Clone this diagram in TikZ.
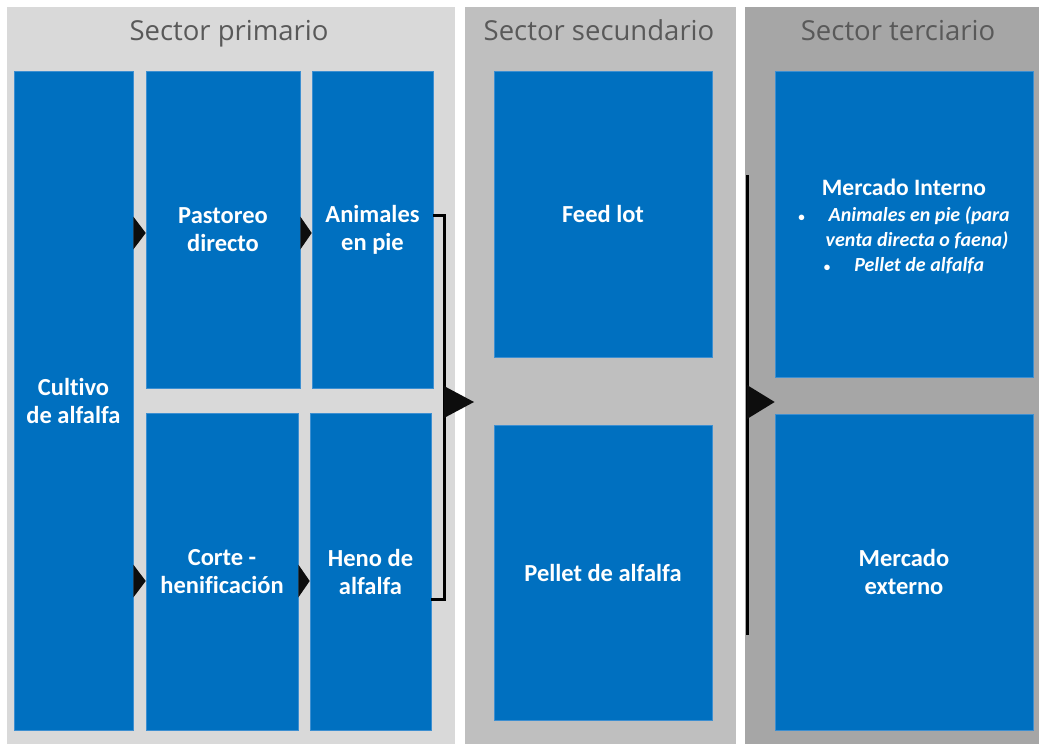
\documentclass[tikz,border=0pt]{standalone}
\usepackage{fontspec}
\setmainfont{Carlito}[Ligatures=NoCommon]
\newfontfamily\titlefont{Open Sans}
\usetikzlibrary{calc}
\definecolor{pA}{HTML}{D9D9D9}
\definecolor{pB}{HTML}{BFBFBF}
\definecolor{pC}{HTML}{A6A6A6}
\definecolor{bx}{HTML}{0070C0}
\definecolor{bxline}{HTML}{3D8FD1}
\definecolor{ttl}{HTML}{595959}
\newcommand{\smbul}{{\fontsize{13}{13}\selectfont\upshape\textbullet}}
\tikzset{
  panel/.style={fill=#1, draw=none},
  bbox/.style={fill=bx, draw=bxline, line width=0.6pt, text=white, align=center,
     font=\fontsize{24.5}{28}\selectfont\bfseries, inner sep=0pt},
  ttitle/.style={text=ttl, font=\titlefont\fontsize{27.5}{30}\selectfont, inner sep=0pt, anchor=base},
  tip/.style={fill=black!95},
  brk/.style={draw=black, line width=3pt}
}
\begin{document}
\begin{tikzpicture}[x=1pt,y=-1pt]
\useasboundingbox (0,0) rectangle (1039,744);
\fill[white] (0,0) rectangle (1039,744);
% panels
\fill[panel=pA] (7,7) rectangle (455,744);
\fill[panel=pB] (465,7) rectangle (736,744);
\fill[panel=pC] (745,7) rectangle (1039,744);
% titles
\node[ttitle] (t1) at (229,40) {Sector primario};
\node[ttitle] (t2) at (599,40) {Sector secundario};
\node[ttitle] (t3) at (898,40) {Sector terciario};
% boxes
\node[bbox, minimum width=119pt, minimum height=659pt] (cult) at (73.5,400.5) {Cultivo\\de alfalfa};
\node[bbox, minimum width=154pt, minimum height=317pt] (past) at (223,229.5) {Pastoreo\\directo};
\node[bbox, minimum width=121pt, minimum height=317pt] (anim) at (372.5,229.5) {Animales\\en pie};
\node[bbox, minimum width=152pt, minimum height=317pt] (cort) at (222,571.5) {Corte -\\henificación};
\node[bbox, minimum width=121pt, minimum height=317pt] (heno) at (370.5,571.5) {Heno de\\alfalfa};
\node[bbox, minimum width=218pt, minimum height=286pt] (feed) at (603,214) {Feed lot};
\node[bbox, minimum width=218pt, minimum height=295pt] (pell) at (603,572.5) {Pellet de alfalfa};
\node[bbox, minimum width=258pt, minimum height=306pt] (mint) at (904,224) {};
\node[text=white, align=center, inner sep=0pt, font=\fontsize{20}{25}\selectfont\bfseries] (mintx) at (904,226) {%
  {\fontsize{23.5}{26}\selectfont Mercado Interno}\\[1pt]
  {\itshape \smbul\hspace{1.2em}Animales en pie (para}\\
  {\itshape \hspace{1.3em}venta directa o faena)}\\
  {\itshape \smbul\hspace{1.2em}Pellet de alfalfa}};
\node[bbox, minimum width=258pt, minimum height=316pt] (mext) at (904,572) {Mercado\\externo};
% small arrow heads
\fill[tip] ($(cult.east|-past.west)+(0,-13)$) -- ($(past.west)+(0,3.5)$) -- ($(cult.east|-past.west)+(0,20)$) -- cycle;
\fill[tip] ($(past.east)+(0,-13)$) -- ($(anim.west)+(0,3.5)$) -- ($(past.east)+(0,20)$) -- cycle;
\fill[tip] ($(cult.east|-cort.west)+(0,-7)$) -- ($(cort.west)+(0,9.5)$) -- ($(cult.east|-cort.west)+(0,26)$) -- cycle;
\fill[tip] ($(cort.east)+(0,-7)$) -- ($(heno.west)+(0,9.5)$) -- ($(cort.east)+(0,26)$) -- cycle;
% bracket 1
\coordinate (b1t) at (444,215);
\coordinate (b1b) at (444,599);
\draw[brk] (anim.east|-b1t) -- (b1t) -- (b1b) -- (heno.east|-b1b);
\coordinate (b1m) at (444,402);
\fill[tip] ($(b1m)+(0,-16)$) -- ($(b1m)+(30,0)$) -- ($(b1m)+(0,16)$) -- cycle;
% bracket 2
\coordinate (b2t) at (747,175);
\coordinate (b2b) at (747,635);
\draw[brk] (b2t) -- (b2b);
\coordinate (b2m) at (747,402);
\fill[tip] ($(b2m)+(0,-17)$) -- (mint.west|-b2m) -- ($(b2m)+(0,17)$) -- cycle;
\end{tikzpicture}
\end{document}
